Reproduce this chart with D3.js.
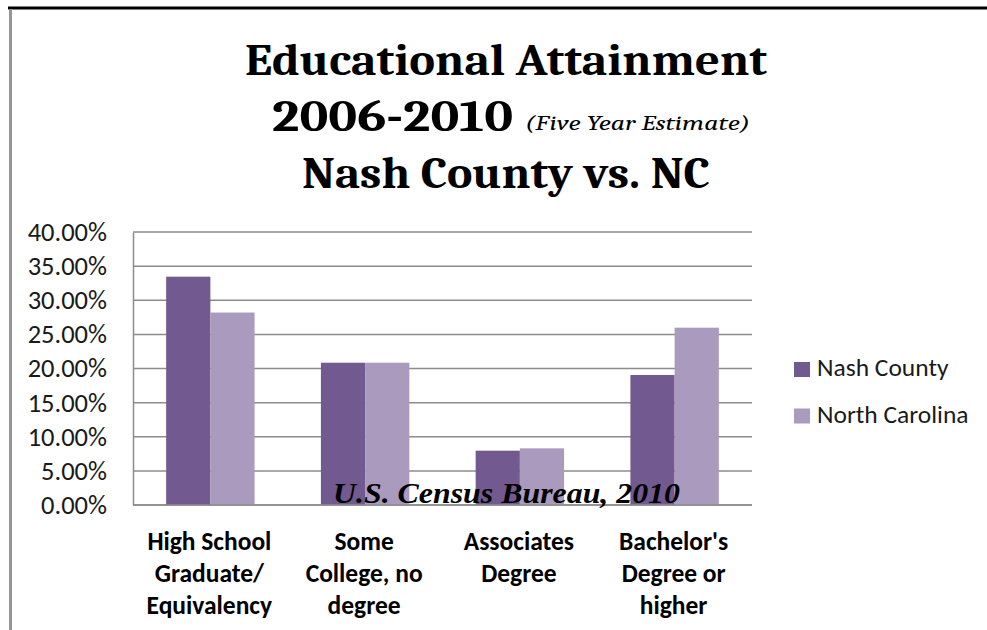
<!DOCTYPE html>
<html>
<head>
<meta charset="utf-8">
<script src="https://cdn.jsdelivr.net/npm/d3@7/dist/d3.min.js"></script>
<style>
  html, body { margin: 0; padding: 0; background: #fff; }
  svg { display: block; }
</style>
</head>
<body>
<svg id="chart" width="987" height="630"></svg>
<script>
// Educational attainment shares, 2006-2010 ACS five-year estimate
const categories = [
  ["High School", "Graduate/", "Equivalency"],
  ["Some", "College, no", "degree"],
  ["Associates", "Degree"],
  ["Bachelor's", "Degree or", "higher"]
];
const seriesNames = ["Nash County", "North Carolina"];
const nashCounty = [0.3345, 0.2085, 0.0796, 0.1905];
const northCarolina = [0.2820, 0.2085, 0.0830, 0.2598];
const yTicks = [0, 0.05, 0.10, 0.15, 0.20, 0.25, 0.30, 0.35, 0.40];
const seriesColors = ["#72598F", "#A99ABE"];

const svg = d3.select("#chart");
const sans = "Carlito, Lato, 'Open Sans', sans-serif";

// Outer frame: black rule across the top, grey edge on the left
svg.append("line").attr("x1", 8).attr("x2", 987).attr("y1", 8).attr("y2", 8)
  .attr("stroke", "#000").attr("stroke-width", 3);
svg.append("line").attr("x1", 10.5).attr("x2", 10.5).attr("y1", 9).attr("y2", 630)
  .attr("stroke", "#969696").attr("stroke-width", 3);

// Title block
const serif = "Caladea, 'DejaVu Serif', serif";
svg.append("text").attr("x", 245).attr("y", 75)
  .attr("font-family", serif).attr("font-weight", "bold").attr("font-size", 44)
  .attr("textLength", 522).attr("lengthAdjust", "spacingAndGlyphs")
  .text("Educational Attainment");
svg.append("text").attr("x", 272).attr("y", 131)
  .attr("font-family", serif).attr("font-weight", "bold").attr("font-size", 44)
  .attr("textLength", 241).attr("lengthAdjust", "spacingAndGlyphs")
  .text("2006-2010");
svg.append("text").attr("x", 525).attr("y", 130)
  .attr("font-family", serif).attr("font-style", "italic").attr("font-size", 21)
  .attr("textLength", 225).attr("lengthAdjust", "spacingAndGlyphs")
  .text("(Five Year Estimate)");
svg.append("text").attr("x", 302).attr("y", 188)
  .attr("font-family", serif).attr("font-weight", "bold").attr("font-size", 44)
  .attr("textLength", 408).attr("lengthAdjust", "spacingAndGlyphs")
  .text("Nash County vs. NC");

// Scales
const plot = { left: 133, right: 752, top: 232, bottom: 505 };
const x = d3.scaleBand()
  .domain(d3.range(categories.length))
  .range([plot.left, plot.right])
  .paddingInner(1.5 / 3.5)
  .paddingOuter(0.75 / 3.5);
const xs = d3.scaleBand().domain(seriesNames).range([0, x.bandwidth()]).padding(0);
const y = d3.scaleLinear().domain([0, 0.40]).range([plot.bottom, plot.top]);

// Horizontal gridlines
svg.append("g").selectAll("line").data(yTicks).join("line")
  .attr("x1", plot.left).attr("x2", plot.right)
  .attr("y1", d => y(d)).attr("y2", d => y(d))
  .attr("stroke", "#8c8c8c").attr("stroke-width", 1.5);

// Y axis
const yAxis = d3.axisLeft(y).tickValues(yTicks).tickFormat(d3.format(".2%")).tickSize(0).tickPadding(26);
const yg = svg.append("g").attr("transform", `translate(${plot.left},0)`).call(yAxis);
yg.select(".domain").attr("stroke", "#8c8c8c").attr("stroke-width", 1.5);
yg.selectAll("text").attr("font-family", sans).attr("font-size", 26.5).attr("fill", "#1a1a1a");

// Bars
const rows = categories.map((c, i) => ({ i, values: [nashCounty[i], northCarolina[i]] }));
const groups = svg.append("g").selectAll("g").data(rows).join("g")
  .attr("transform", d => `translate(${x(d.i)},0)`);
groups.selectAll("rect")
  .data(d => d.values.map((v, k) => ({ name: seriesNames[k], v, k })))
  .join("rect")
  .attr("x", d => xs(d.name))
  .attr("width", xs.bandwidth())
  .attr("y", d => y(d.v))
  .attr("height", d => y(0) - y(d.v))
  .attr("fill", d => seriesColors[d.k]);

// Baseline
svg.append("line").attr("x1", plot.left).attr("x2", plot.right)
  .attr("y1", y(0)).attr("y2", y(0)).attr("stroke", "#8c8c8c").attr("stroke-width", 1.5);

// Category labels
const catText = svg.append("g").selectAll("text").data(categories).join("text")
  .attr("text-anchor", "middle")
  .attr("font-family", sans).attr("font-weight", "bold").attr("font-size", 25.5)
  .attr("fill", "#000");
catText.selectAll("tspan").data((d, i) => d.map(s => ({ s, i }))).join("tspan")
  .attr("x", d => x(d.i) + x.bandwidth() / 2 - 1)
  .attr("y", (d, j) => 550 + j * 32)
  .text(d => d.s);

// Source note
svg.append("text").attr("x", 333).attr("y", 503)
  .attr("font-family", "'Liberation Serif', 'Times New Roman', serif")
  .attr("font-weight", "bold").attr("font-style", "italic").attr("font-size", 30)
  .attr("textLength", 347).attr("lengthAdjust", "spacingAndGlyphs")
  .text("U.S. Census Bureau, 2010");

// Legend
const legend = svg.append("g").selectAll("g").data(seriesNames).join("g")
  .attr("transform", (d, i) => `translate(794,${362 + i * 46.5})`);
legend.append("rect").attr("width", 16).attr("height", 15)
  .attr("fill", (d, i) => seriesColors[i]);
legend.append("text").attr("x", 23).attr("y", 14)
  .attr("font-family", sans).attr("font-size", 25.5).attr("fill", "#1a1a1a")
  .text(d => d);
</script>
</body>
</html>
